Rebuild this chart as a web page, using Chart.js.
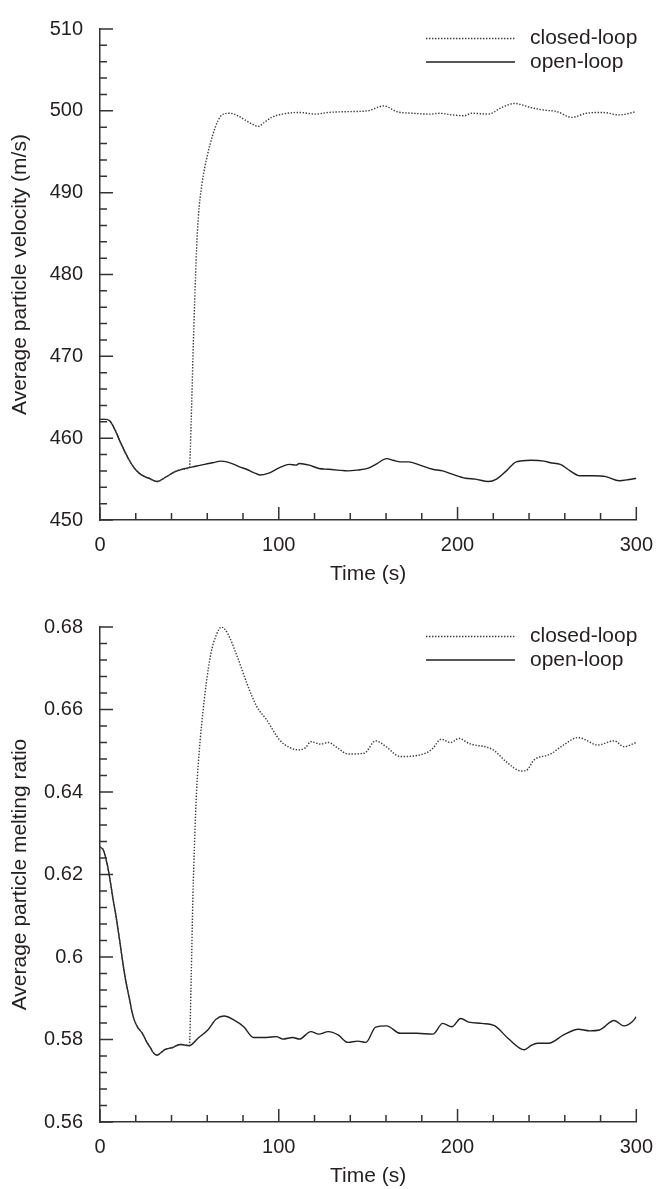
<!DOCTYPE html>
<html>
<head>
<meta charset="utf-8">
<script src="https://cdn.jsdelivr.net/npm/chart.js@4/dist/chart.umd.min.js"></script>
<style>
  body { margin: 0; background: #fff; }
  canvas { position: absolute; left: 0; }
  #velChart { top: 0; }
  #meltChart { top: 595px; }
</style>
</head>
<body>
<canvas id="velChart" width="666" height="595"></canvas>
<canvas id="meltChart" width="666" height="594"></canvas>
<script>
/* Velocidad y fusion media de las particulas, lazo cerrado vs lazo abierto */

const seriesLabels = ["closed-loop", "open-loop"];

// Grafico 1: velocidad media (m/s)
const velTimeClosed = [0, 3, 5.5, 8, 11, 14, 16.4, 19, 22, 25, 27.4, 32, 36.5, 42, 46, 50,
  51, 52, 53, 54, 55, 57, 60, 63, 66, 69, 73, 77, 81, 85, 88.5, 92, 96, 102, 111.5, 120.6,
  127.7, 138.7, 149.7, 158.8, 166, 175.2, 184.4, 189.9, 197, 203.6, 208, 217.3, 224.6, 231.9,
  241, 248, 255.7, 263.9, 272, 281.2, 290.4, 300];
const velClosed = [462.3, 462.3, 462.1, 461.2, 459.7, 458.3, 457.3, 456.4, 455.7, 455.3, 455.1, 454.7, 455.2, 455.9, 456.2, 456.4,
  462, 470, 477, 483, 487, 491, 494.5, 497, 498.8, 499.6, 499.7, 499.4, 498.9, 498.4, 498.1, 498.6, 499.2, 499.6, 499.8, 499.6,
  499.8, 499.9, 500.0, 500.6, 499.9, 499.7, 499.6, 499.7, 499.5, 499.4, 499.7, 499.6, 500.4, 500.9,
  500.4, 500.1, 499.9, 499.2, 499.7, 499.8, 499.5, 499.9];

const velTimeOpen = [0, 3, 5.5, 8, 11, 14, 16.4, 19, 22, 25, 27.4, 32, 36.5, 42, 46, 50, 54, 58.5, 63, 67.6,
  71, 75, 78, 82, 86, 89.5, 94, 100.5, 106, 109.6, 111.5, 117, 122.4, 127.7, 133, 138.7, 144, 149.7, 155, 160.3,
  164, 168, 172.5, 179, 186, 191.7, 197, 204.5, 210, 217.3, 221.8, 227.3, 232.8, 241, 248.4, 252, 257.5, 263, 268.4, 275.7,
  283, 290.4, 296, 300];
const velOpen = [462.3, 462.3, 462.1, 461.2, 459.7, 458.3, 457.3, 456.4, 455.7, 455.3, 455.1, 454.7, 455.2, 455.9, 456.2, 456.4, 456.6, 456.8, 457.0, 457.2,
  457.1, 456.8, 456.5, 456.2, 455.8, 455.5, 455.7, 456.4, 456.8, 456.7, 456.9, 456.7, 456.3, 456.2, 456.1, 456.0, 456.1, 456.3, 456.9, 457.5,
  457.3, 457.1, 457.1, 456.7, 456.2, 456.0, 455.6, 455.1, 455.0, 454.7, 455.0, 456.0, 457.1, 457.3, 457.2, 457.0, 456.8, 456.0, 455.4, 455.4,
  455.3, 454.8, 454.95, 455.1];

// Grafico 2: razon de fusion media
const meltTimeClosed = [0, 2, 4, 5.5, 7.3, 9.1, 11, 12.8, 14.5, 16.4, 18, 19.2, 21, 23.7, 26, 28.3, 30, 32, 34, 36.5, 40.2, 44.8, 47, 50,
  51, 52, 53, 54, 55, 57, 59.5, 62, 65, 68, 71.3, 76.8, 82.2, 87.7, 93.2, 100.5, 106, 111.5, 115.1, 117.9,
  123.4, 127.7, 133.2, 138.7, 147.8, 154.2, 159.7, 168, 182.6, 186.2, 190.8, 196.3, 200.8, 206.3, 220, 227.3,
  235.6, 238.3, 242.9, 252, 259.3, 267.5, 278.5, 287.6, 293.1, 300];
const meltClosed = [0.6267, 0.6258, 0.6225, 0.619, 0.614, 0.6095, 0.604, 0.5985, 0.594, 0.59, 0.5865, 0.5847, 0.583, 0.5815, 0.5795, 0.5779, 0.5767, 0.5762, 0.5768, 0.5776, 0.578, 0.5788, 0.5787, 0.5785,
  0.595, 0.615, 0.629, 0.640, 0.647, 0.657, 0.6665, 0.6735, 0.678, 0.680, 0.6785, 0.6728, 0.6663, 0.6607, 0.6575, 0.6526, 0.6508, 0.6502, 0.6508, 0.6522,
  0.6516, 0.6520, 0.6506, 0.6492, 0.6494, 0.6524, 0.6511, 0.6486, 0.6495, 0.6506, 0.6528, 0.6520, 0.6530, 0.6518, 0.6502, 0.6473,
  0.6451, 0.6452, 0.6478, 0.6492, 0.6514, 0.6532, 0.6514, 0.6524, 0.6510, 0.6520];

const meltTimeOpen = [0, 2, 4, 5.5, 7.3, 9.1, 11, 12.8, 14.5, 16.4, 18, 19.2, 21, 23.7, 26, 28.3, 30, 32, 34, 36.5, 40.2, 44.8, 47, 50,
  54.8, 60.3, 64.9, 69.4, 75, 80.4, 85.9, 93.2, 98.7, 102.3, 107.8, 111.5, 117.9, 122.4, 127.7, 133.2, 138.7, 144.2, 148.7,
  154.2, 160.3, 168, 177, 186.2, 191.7, 196.8, 201.8, 206.3, 213.6, 220.9, 228.2, 237.4, 241, 244.7, 251, 259.3,
  267.5, 273.9, 279.4, 287.6, 293.1, 297.7, 300];
const meltOpen = [0.6267, 0.6258, 0.6225, 0.619, 0.614, 0.6095, 0.604, 0.5985, 0.594, 0.59, 0.5865, 0.5847, 0.583, 0.5815, 0.5795, 0.5779, 0.5767, 0.5762, 0.5768, 0.5776, 0.578, 0.5788, 0.5787, 0.5785,
  0.5803, 0.5823, 0.5849, 0.5857, 0.5847, 0.5831, 0.5805, 0.5805, 0.5807, 0.5801, 0.5805, 0.5801, 0.5819, 0.5813, 0.5819, 0.5811, 0.5793, 0.5796, 0.5793,
  0.5830, 0.5833, 0.5815, 0.5815, 0.5813, 0.5839, 0.5831, 0.5851, 0.5842, 0.5839, 0.5833, 0.5803, 0.5775, 0.5785, 0.5791, 0.5791, 0.5811,
  0.5825, 0.5821, 0.5823, 0.5846, 0.5833, 0.5843, 0.5855];

const inkColor = "#231f20";
Chart.defaults.font.family = "'Liberation Sans', Arial, Helvetica, sans-serif";
Chart.defaults.color = inkColor;

// junta los arreglos de tiempo y valor en puntos {x, y}
const toPoints = (times, values) => times.map((t, i) => ({ x: t, y: values[i] }));

// Marcas de escala hacia adentro (mayores y menores)
const inwardTicks = {
  id: "inwardTicks",
  afterDraw(chart, args, opts) {
    const { ctx, chartArea, scales } = chart;
    ctx.save();
    ctx.strokeStyle = "#333";
    ctx.lineWidth = 1.5;
    ctx.beginPath();
    let n = Math.round((scales.x.max - scales.x.min) / opts.xMinor);
    for (let i = 0; i <= n; i++) {
      const v = scales.x.min + i * opts.xMinor;
      const px = scales.x.getPixelForValue(v);
      const len = i % opts.xEvery === 0 ? 13 : 7;
      ctx.moveTo(px, chartArea.bottom);
      ctx.lineTo(px, chartArea.bottom - len);
    }
    n = Math.round((scales.y.max - scales.y.min) / opts.yMinor);
    for (let i = 0; i <= n; i++) {
      const v = scales.y.min + i * opts.yMinor;
      const py = scales.y.getPixelForValue(v);
      const len = i % opts.yEvery === 0 ? 13 : 7;
      ctx.moveTo(chartArea.left, py);
      ctx.lineTo(chartArea.left + len, py);
    }
    ctx.stroke();
    ctx.restore();
  }
};

// Leyenda dibujada dentro del area del grafico (muestra de linea + texto)
const lineLegend = {
  id: "lineLegend",
  afterDraw(chart) {
    const { ctx, chartArea } = chart;
    ctx.save();
    ctx.font = "21px 'Liberation Sans', Arial, sans-serif";
    ctx.textBaseline = "middle";
    ctx.fillStyle = inkColor;
    chart.data.datasets.forEach((ds, i) => {
      const y = chartArea.top + 9.5 + i * 23.5;
      ctx.beginPath();
      ctx.strokeStyle = ds.borderColor;
      ctx.lineWidth = ds.borderWidth;
      ctx.setLineDash(ds.borderDash || []);
      ctx.moveTo(426, y);
      ctx.lineTo(515, y);
      ctx.stroke();
      ctx.fillText(ds.label, 530, y);
    });
    ctx.restore();
  }
};

function makeChart(canvas, closedPts, openPts, yCfg, padTop, xHeight, titleBottom) {
  // eslint-disable-next-line no-undef
  return new Chart(canvas, {
    type: "line",
    data: {
      datasets: [
        {
          label: seriesLabels[0],
          data: closedPts,
          borderColor: "#3a3a3a",
          borderWidth: 1.4,
          borderDash: [1.4, 1.6]
        },
        {
          label: seriesLabels[1],
          data: openPts,
          borderColor: inkColor,
          borderWidth: 1.4
        }
      ]
    },
    options: {
      responsive: false,
      animation: false,
      layout: { padding: { left: 0, right: 19, top: padTop, bottom: 0 } },
      elements: {
        point: { radius: 0 },
        line: { cubicInterpolationMode: "monotone", fill: false }
      },
      plugins: {
        legend: { display: false },
        tooltip: { enabled: false },
        inwardTicks: { xMinor: 20, xEvery: 5, yMinor: yCfg.minor, yEvery: 5 }
      },
      scales: {
        x: {
          type: "linear",
          min: 0,
          max: 300,
          afterFit: (s) => { s.height = xHeight; },
          grid: { drawOnChartArea: false, drawTicks: false },
          border: { display: true, color: "#333", width: 1.5 },
          ticks: { stepSize: 100, padding: 13, font: { size: 20 } },
          title: { display: true, text: "Time (s)", font: { size: 21 }, padding: { top: 0, bottom: titleBottom } }
        },
        y: {
          min: yCfg.min,
          max: yCfg.max,
          afterFit: (s) => { s.width = 100; },
          grid: { drawOnChartArea: false, drawTicks: false },
          border: { display: true, color: "#333", width: 1.5 },
          ticks: {
            stepSize: yCfg.step,
            padding: 17,
            font: { size: 20 },
            callback: (v) => String(parseFloat(v.toFixed(3)))
          },
          title: { display: true, text: yCfg.title, font: { size: 21 }, padding: { top: 8, bottom: 0 } }
        }
      }
    },
    plugins: [inwardTicks, lineLegend]
  });
}

makeChart(document.getElementById("velChart"),
  toPoints(velTimeClosed, velClosed), toPoints(velTimeOpen, velOpen),
  { min: 450, max: 510, step: 10, minor: 2, title: "Average particle velocity (m/s)" },
  24, 75, 8);

makeChart(document.getElementById("meltChart"),
  toPoints(meltTimeClosed, meltClosed), toPoints(meltTimeOpen, meltOpen),
  { min: 0.56, max: 0.68, step: 0.02, minor: 0.004, title: "Average particle melting ratio" },
  32, 67, 0);
</script>
</body>
</html>
